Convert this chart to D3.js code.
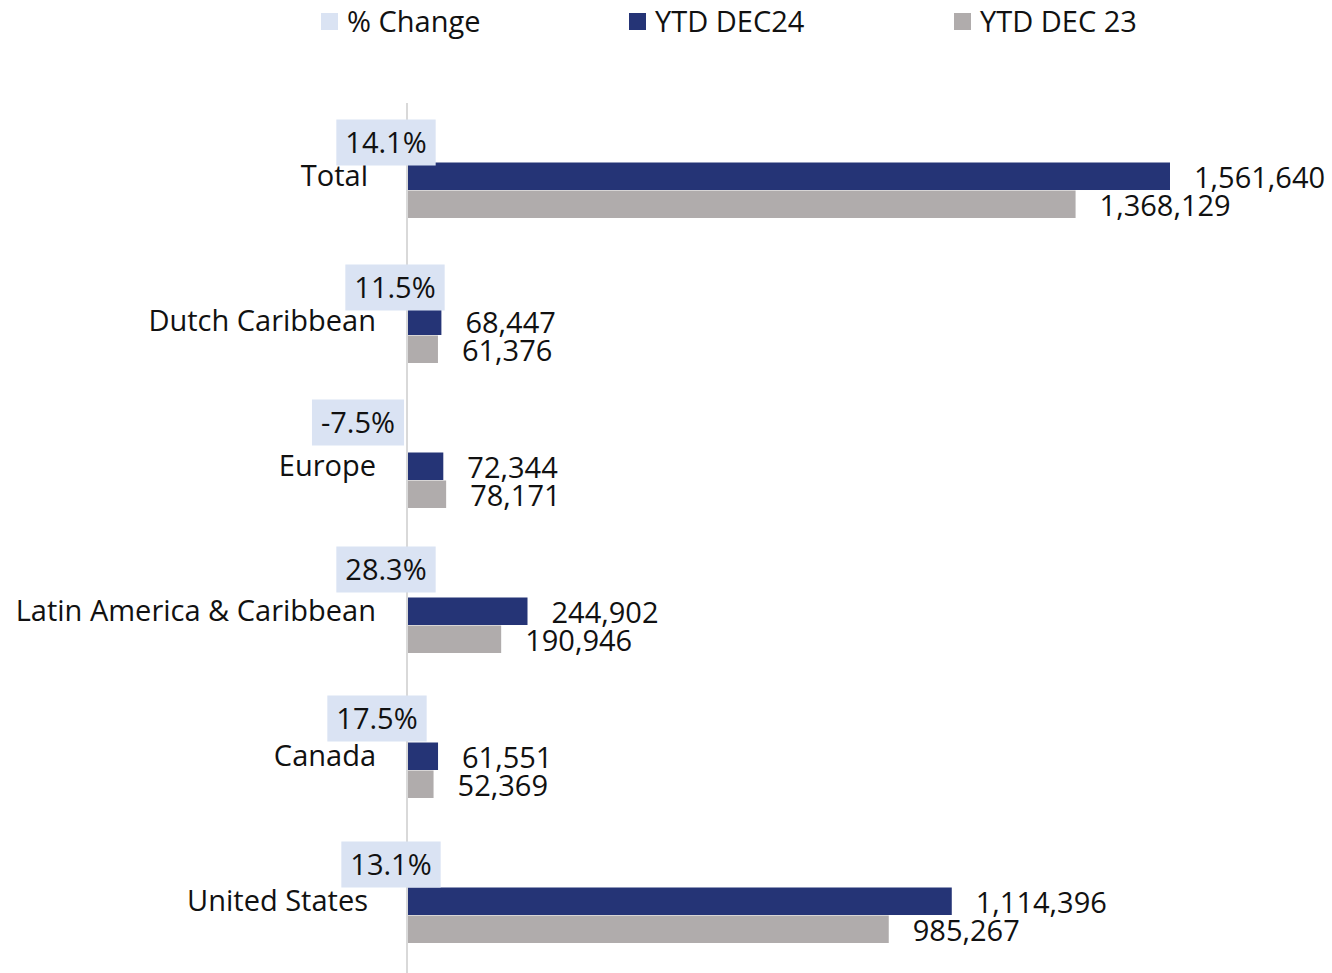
<!DOCTYPE html>
<html>
<head>
<meta charset="utf-8">
<script src="https://cdn.jsdelivr.net/npm/d3@7"></script>
<style>
  body { margin: 0; background: #fff; }
  svg text { font-family: "Open Sans", sans-serif; fill: #111; }
</style>
</head>
<body>
<div class="visContainer"></div>
<script>
const w = 1332;
const h = 973;

const categories = ['Total', 'Dutch Caribbean', 'Europe', 'Latin America & Caribbean', 'Canada', 'United States'];
const ytdDec24 = [1561640, 68447, 72344, 244902, 61551, 1114396];
const ytdDec23 = [1368129, 61376, 78171, 190946, 52369, 985267];
const pctChange = ['14.1%', '11.5%', '-7.5%', '28.3%', '17.5%', '13.1%'];
// label nudges, as placed in the original
const pctDx = [-22, -13, -50, -22, -31, -17];
const pctDy = [4, 4, -6, -4, 0, 1];
const catDx = [-8, 0, 0, 0, 0, -8];

const colDec24 = '#253476';
const colDec23 = '#b0acac';
const colPct = '#dae3f3';
const fs = '29px';

const svg = d3.select('.visContainer').append('svg')
	.attr('width', w)
	.attr('height', h);

const x0 = 408;
const xScale = d3.scaleLinear().domain([0, 1561640]).range([x0, 1170]);
const yScale = d3.scaleBand().domain(categories).range([117.5, 987.5]);
const barH = 27.5;
const mid = (d) => yScale(d) + yScale.bandwidth() / 2;

// axis line
svg.append('line')
	.attr('x1', 407).attr('x2', 407)
	.attr('y1', 103).attr('y2', h)
	.attr('stroke', '#d9d9d9')
	.attr('stroke-width', 2);

const rows = categories.map((c, i) => ({ c, i, a: ytdDec24[i], b: ytdDec23[i], p: pctChange[i] }));

const g = svg.selectAll('g.row').data(rows).enter().append('g').attr('class', 'row');

g.append('rect')
	.attr('x', x0)
	.attr('y', (d) => mid(d.c) - barH)
	.attr('width', (d) => xScale(d.a) - x0)
	.attr('height', barH)
	.attr('fill', colDec24);

g.append('rect')
	.attr('x', x0)
	.attr('y', (d) => mid(d.c) + 0.5)
	.attr('width', (d) => xScale(d.b) - x0)
	.attr('height', barH)
	.attr('fill', colDec23);

const fmt = d3.format(',');
g.append('text')
	.attr('x', (d) => xScale(d.a) + 24)
	.attr('y', (d) => mid(d.c) - barH / 2 + 2)
	.attr('dy', '0.35em')
	.style('font-size', fs)
	.text((d) => fmt(d.a));

g.append('text')
	.attr('x', (d) => xScale(d.b) + 24)
	.attr('y', (d) => mid(d.c) + barH / 2 + 2)
	.attr('dy', '0.35em')
	.style('font-size', fs)
	.text((d) => fmt(d.b));

// category labels
g.append('text')
	.attr('x', (d) => 376 + catDx[d.i])
	.attr('y', (d) => mid(d.c) - barH / 2)
	.attr('dy', '0.35em')
	.attr('text-anchor', 'end')
	.style('font-size', fs)
	.text((d) => d.c);

// % change boxes
const pg = g.append('g')
	.attr('transform', (d) => `translate(${x0 + pctDx[d.i]},${mid(d.c) - barH - 24 + pctDy[d.i]})`);
pg.each(function (d) {
	const t = d3.select(this).append('text')
		.attr('text-anchor', 'middle')
		.attr('dy', '0.35em')
		.style('font-size', fs)
		.text(d.p);
	const bw = t.node().getComputedTextLength() + 18;
	d3.select(this).insert('rect', 'text')
		.attr('x', -bw / 2).attr('y', -23)
		.attr('width', bw).attr('height', 46)
		.attr('fill', colPct);
});

// legend
const legend = [
	{ label: '% Change', color: colPct, x: 321 },
	{ label: 'YTD DEC24', color: colDec24, x: 629 },
	{ label: 'YTD DEC 23', color: colDec23, x: 954 }
];
const lg = svg.selectAll('g.legend').data(legend).enter().append('g')
	.attr('class', 'legend')
	.attr('transform', (d) => `translate(${d.x},13)`);
lg.append('rect').attr('width', 17).attr('height', 17).attr('fill', (d) => d.color);
lg.append('text')
	.attr('x', 26).attr('y', 8.5).attr('dy', '0.35em')
	.style('font-size', fs)
	.text((d) => d.label);
</script>
</body>
</html>
